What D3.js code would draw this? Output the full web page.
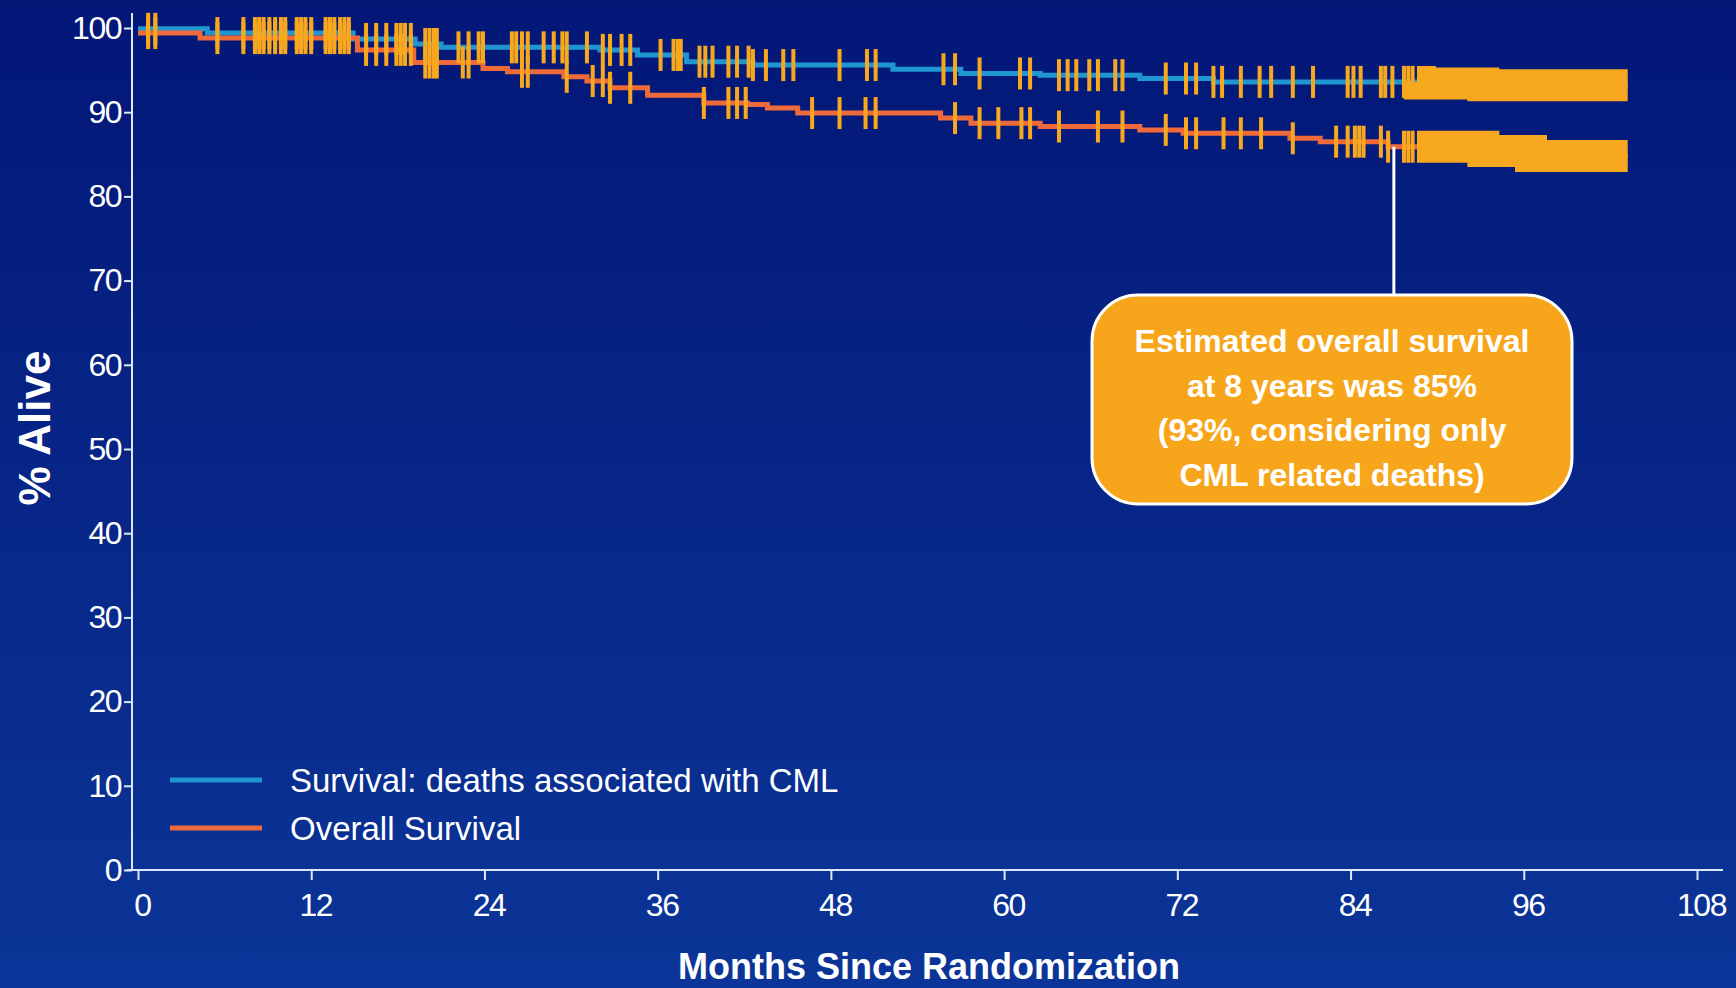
<!DOCTYPE html>
<meta charset="utf-8">
<title>Survival since randomization</title>
<style>
body {
  margin: 0;
  background: #0a2a8c;
}
svg {
  display: block;
  font-family: "Liberation Sans", Arial, sans-serif;
}
.tick text {
  fill: #fff;
  font-size: 32px;
  letter-spacing: -1.5px;
}
</style>
<body>
<svg id="chart" width="1736" height="988"></svg>

<script src="https://d3js.org/d3.v7.min.js"></script>
<script>

// Tick labels
var xTicks = [0, 12, 24, 36, 48, 60, 72, 84, 96, 108];
var yTicks = [0, 10, 20, 30, 40, 50, 60, 70, 80, 90, 100];

// Kaplan-Meier steps: [month, % alive after step]
var cmlSteps = [[0, 99.9], [4.8, 99.4], [14.9, 98.7], [19.2, 98.1], [21, 97.7],
  [32, 97.4], [34.6, 96.8], [38, 96.0], [42.6, 95.6], [52.3, 95.1], [57, 94.6],
  [62.5, 94.4], [69.4, 94.0], [74.5, 93.6], [88.8, 93.4], [93.2, 93.2]];
var overallSteps = [[0, 99.4], [4.3, 98.8], [15.2, 97.4], [19.1, 95.9], [23.9, 95.2],
  [25.6, 94.8], [29.5, 94.2], [31.1, 93.7], [32.7, 92.9], [35.3, 92.0], [39.2, 91.1],
  [42.2, 90.9], [43.6, 90.5], [45.7, 89.9], [55.6, 89.3], [57.7, 88.7], [62.5, 88.3],
  [69.4, 87.9], [72.4, 87.5], [79.8, 86.9], [81.9, 86.5], [86.6, 85.9], [93.2, 85.4],
  [96.5, 84.8]];
var lastMonth = 103.2;

// Censoring marks (months)
var earlyCensor = [0.7, 1.2, 5.5, 7.3, 8.1, 8.4, 8.7, 9.1, 9.5, 9.9, 10.2, 11.0, 11.3,
  11.6, 12.0, 13.0, 13.3, 13.6, 14.0, 14.3, 14.6, 15.8, 16.5, 17.2, 17.9, 18.2, 18.5,
  18.9, 19.9, 20.2, 20.5, 20.7];
var cmlCensor = [22.2, 22.9, 23.6, 23.9, 25.9, 26.2, 26.6, 27.0, 28.1, 28.8, 29.4, 29.7,
  31.1, 32.2, 32.7, 33.5, 34.1, 36.2, 37.1, 37.4, 37.6, 38.9, 39.3, 39.8, 40.9, 41.5,
  42.3, 42.6, 43.5, 44.7, 45.4, 48.6, 50.5, 51.1, 55.8, 56.6, 58.3, 61.1, 61.8, 63.8,
  64.4, 65.0, 65.9, 66.5, 67.7, 68.2, 71.2, 72.6, 73.3, 74.5, 75.1, 76.4, 77.7, 78.5,
  80.0, 81.4, 83.8, 84.2, 84.7, 86.1, 86.4, 86.9, 87.7, 88.0, 88.3];
var overallCensor = [22.5, 22.9, 26.6, 27.0, 29.7, 31.5, 32.2, 32.7, 34.1, 39.2, 40.9,
  41.5, 42.1, 46.7, 48.6, 50.4, 51.1, 56.6, 58.3, 59.6, 61.2, 61.8, 63.8, 66.5, 68.2,
  71.2, 72.6, 73.3, 75.2, 76.4, 77.8, 80.0, 83.0, 83.8, 84.3, 84.6, 84.9, 86.1, 86.6,
  87.7, 88.0, 88.3];
// dense censoring at the end shows as a solid band
var censorBand = [88.6, 103.2];

var seriesNames = ["Survival: deaths associated with CML", "Overall Survival"];
var seriesColors = ["#1f96cf", "#ee6a3a"];
var noteLines = ["Estimated overall survival", "at 8 years was 85%",
  "(93%, considering only", "CML related deaths)"];
var noteMonth = 87;

var svg = d3.select("#chart");

// background gradient
var grad = svg.append("defs").append("linearGradient")
    .attr("id", "bg").attr("x1", 0).attr("y1", 0).attr("x2", 0).attr("y2", 1);
grad.append("stop").attr("offset", "0%").attr("stop-color", "#031777");
grad.append("stop").attr("offset", "100%").attr("stop-color", "#0b3598");
svg.append("rect").attr("width", 1736).attr("height", 988).attr("fill", "url(#bg)");

var x = d3.scaleLinear().domain([0, 108]).range([138, 1697]);
var y = d3.scaleLinear().domain([0, 100]).range([870, 28]);

// axes
var xAxis = svg.append("g")
    .attr("transform", "translate(0,870)")
    .call(d3.axisBottom(x).tickValues(xTicks).tickSize(10).tickPadding(6));
var yAxis = svg.append("g")
    .attr("transform", "translate(132,0)")
    .call(d3.axisLeft(y).tickValues(yTicks).tickSize(8).tickPadding(3));
svg.selectAll(".domain").remove();
svg.selectAll(".tick line").attr("stroke", "#dce9f5").attr("stroke-width", 2);
xAxis.selectAll(".tick text").attr("dy", "0.95em").attr("dx", 4);

svg.append("line").attr("x1", 132).attr("x2", 132).attr("y1", 13).attr("y2", 871)
    .attr("stroke", "#dce9f5").attr("stroke-width", 2);
svg.append("line").attr("x1", 127).attr("x2", 1723).attr("y1", 870).attr("y2", 870)
    .attr("stroke", "#dce9f5").attr("stroke-width", 2);

// axis titles
svg.append("text")
    .attr("transform", "translate(50,428) rotate(-90)")
    .attr("text-anchor", "middle")
    .attr("fill", "#fff").attr("font-weight", "bold").attr("font-size", 44)
    .text("% Alive");
svg.append("text")
    .attr("x", 929).attr("y", 979)
    .attr("text-anchor", "middle")
    .attr("fill", "#fff").attr("font-weight", "bold").attr("font-size", 36)
    .text("Months Since Randomization");

function survAt(steps, t) {
  var v = steps[0][1];
  steps.forEach(function(s) { if (s[0] <= t) v = s[1]; });
  return v;
}

var line = d3.line()
    .x(function(d) { return x(d[0]); })
    .y(function(d) { return y(d[1]); })
    .curve(d3.curveStepAfter);

var series = [
  {steps: cmlSteps, censor: earlyCensor.concat(cmlCensor), color: seriesColors[0]},
  {steps: overallSteps, censor: earlyCensor.concat(overallCensor), color: seriesColors[1]}
];

series.forEach(function(s) {
  var pts = s.steps.concat([[lastMonth, s.steps[s.steps.length - 1][1]]]);
  svg.append("path")
      .attr("d", line(pts))
      .attr("fill", "none")
      .attr("stroke", s.color)
      .attr("stroke-width", 5);
});

// censor marks
series.forEach(function(s) {
  svg.append("g").selectAll("rect")
    .data(s.censor)
    .enter().append("rect")
      .attr("x", function(t) { return x(t) - 2; })
      .attr("y", function(t) { return y(survAt(s.steps, t)) - 16; })
      .attr("width", 4)
      .attr("height", 32)
      .attr("fill", "#f8a81f");

  // solid band of censoring at the end
  var bandPts = [[censorBand[0], survAt(s.steps, censorBand[0])]];
  s.steps.forEach(function(p) {
    if (p[0] > censorBand[0] && p[0] < censorBand[1]) bandPts.push(p);
  });
  bandPts.push([censorBand[1], survAt(s.steps, censorBand[1])]);
  svg.append("path")
      .attr("d", line(bandPts))
      .attr("fill", "none")
      .attr("stroke", "#f8a81f")
      .attr("stroke-width", 32);
});

// legend
seriesNames.forEach(function(name, i) {
  var ly = 780 + i * 48;
  svg.append("line")
      .attr("x1", 170).attr("x2", 262).attr("y1", ly).attr("y2", ly)
      .attr("stroke", seriesColors[i]).attr("stroke-width", 5);
  svg.append("text")
      .attr("x", 290).attr("y", ly + 12)
      .attr("fill", "#fff").attr("font-size", 33)
      .text(name);
});

// annotation
var noteX = x(noteMonth);
svg.append("line")
    .attr("x1", noteX).attr("x2", noteX)
    .attr("y1", y(survAt(overallSteps, noteMonth))).attr("y2", 296)
    .attr("stroke", "#fff").attr("stroke-width", 3);
svg.append("rect")
    .attr("x", 1092).attr("y", 295).attr("width", 480).attr("height", 209)
    .attr("rx", 46)
    .attr("fill", "#f7a61c").attr("stroke", "#fff").attr("stroke-width", 3);
svg.append("text")
    .attr("text-anchor", "middle")
    .attr("fill", "#fff").attr("font-weight", "bold").attr("font-size", 32)
    .selectAll("tspan")
    .data(noteLines)
    .enter().append("tspan")
      .attr("x", 1332)
      .attr("y", function(d, i) { return 352 + i * 44.5; })
      .text(function(d) { return d; });
</script>
</body>
